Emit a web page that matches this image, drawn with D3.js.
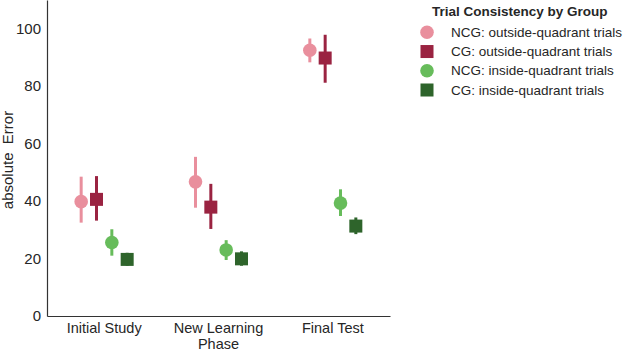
<!DOCTYPE html>
<html>
<head>
<meta charset="utf-8">
<script src="https://cdn.jsdelivr.net/npm/d3@7"></script>
<style>
  body { margin: 0; background: #fff; }
  svg { font-family: "Liberation Sans", Arial, sans-serif; }
</style>
</head>
<body>
<svg id="chart" width="623" height="350"></svg>
<script>
// categories along the x axis
const phases = ['Initial Study', 'New Learning Phase', 'Final Test'];
// series names (hue order)
const groups = [
  'NCG: outside-quadrant trials',
  'CG: outside-quadrant trials',
  'NCG: inside-quadrant trials',
  'CG: inside-quadrant trials'
];
const groupColors = ['#e98f9d', '#9a2341', '#67bc5b', '#2e642b'];
const groupShapes = ['circle', 'square', 'circle', 'square'];

// mean values per group, per phase
const ncgOutMean = [39.8, 46.7, 92.5];
const cgOutMean = [40.6, 37.9, 89.8];
const ncgInMean = [25.6, 23.0, 39.3];
const cgInMean = [19.7, 19.9, 31.3];
// error bar low / high
const ncgOutLo = [32.5, 37.7, 88.3], ncgOutHi = [48.5, 55.4, 96.6];
const cgOutLo = [33.2, 30.3, 81.2], cgOutHi = [48.7, 46.0, 97.9];
const ncgInLo = [21.0, 19.5, 34.8], ncgInHi = [30.2, 26.4, 44.1];
const cgInLo = [17.5, 17.5, 28.5], cgInHi = [22.0, 22.5, 34.3];

const yTicks = [0, 20, 40, 60, 80, 100];

const means = [ncgOutMean, cgOutMean, ncgInMean, cgInMean];
const los = [ncgOutLo, cgOutLo, ncgInLo, cgInLo];
const his = [ncgOutHi, cgOutHi, ncgInHi, cgInHi];

const svg = d3.select('#chart');
const margin = { left: 47, right: 233, top: 0, bottom: 34 };
const width = 623, height = 350;

let xScale = d3.scaleBand().domain(phases).range([margin.left, width - margin.right]).padding(0);
let yScale = d3.scaleLinear().domain([0, 110]).range([height - margin.bottom, margin.top]);
// dodge positions inside each band
let dodge = d3.scalePoint().domain(groups).range([-23, 23]);

// axes
let xAxis = d3.axisBottom(xScale).tickSize(0).tickPadding(7);
let yAxis = d3.axisLeft(yScale).tickValues(yTicks).tickSize(0).tickPadding(6);

const gx = svg.append('g')
  .attr('transform', `translate(0, ${height - margin.bottom})`)
  .call(xAxis);
gx.select('.domain').attr('stroke', '#333').attr('stroke-width', 1.2);
gx.selectAll('text')
  .attr('font-size', 14.5)
  .attr('fill', '#262626')
  .each(function (d) {
    if (d === 'New Learning Phase') {
      const t = d3.select(this);
      t.text(null);
      t.append('tspan').attr('x', 0).attr('dy', '0.71em').text('New Learning');
      t.append('tspan').attr('x', 0).attr('dy', '1.1em').text('Phase');
    }
  });

const gy = svg.append('g')
  .attr('transform', `translate(${margin.left}, 0)`)
  .call(yAxis);
gy.select('.domain').attr('stroke', '#333').attr('stroke-width', 1.2);
gy.selectAll('text').attr('font-size', 15).attr('fill', '#262626');

svg.append('text')
  .attr('transform', 'translate(13, 160) rotate(-90)')
  .attr('text-anchor', 'middle')
  .attr('font-size', 15)
  .attr('fill', '#262626')
  .attr('xml:space', 'preserve')
  .text('absolute  Error');

// points and error bars
groups.forEach((g, gi) => {
  const layer = svg.append('g');
  const data = phases.map((p, pi) => ({ phase: p, mean: means[gi][pi], lo: los[gi][pi], hi: his[gi][pi] }));
  const cx = d => xScale(d.phase) + xScale.bandwidth() / 2 + dodge(g);

  layer.selectAll('line.err').data(data).join('line')
    .attr('x1', cx).attr('x2', cx)
    .attr('y1', d => yScale(d.lo)).attr('y2', d => yScale(d.hi))
    .attr('stroke', groupColors[gi])
    .attr('stroke-width', 3);

  if (groupShapes[gi] === 'circle') {
    layer.selectAll('circle').data(data).join('circle')
      .attr('cx', cx).attr('cy', d => yScale(d.mean))
      .attr('r', 6.8)
      .attr('fill', groupColors[gi]);
  } else {
    layer.selectAll('rect').data(data).join('rect')
      .attr('x', d => cx(d) - 6.5).attr('y', d => yScale(d.mean) - 6.5)
      .attr('width', 13).attr('height', 13)
      .attr('fill', groupColors[gi]);
  }
});

// legend
const legend = svg.append('g');
legend.append('text')
  .attr('x', 432).attr('y', 16)
  .attr('font-size', 13.5).attr('font-weight', 'bold')
  .attr('fill', '#262626')
  .text('Trial Consistency by Group');

const rowY = d3.scalePoint().domain(groups).range([32.3, 90]);
groups.forEach((g, gi) => {
  const y = rowY(g);
  if (groupShapes[gi] === 'circle') {
    legend.append('circle').attr('cx', 427).attr('cy', y).attr('r', 6.8).attr('fill', groupColors[gi]);
  } else {
    legend.append('rect').attr('x', 420.5).attr('y', y - 6.5).attr('width', 13).attr('height', 13).attr('fill', groupColors[gi]);
  }
  legend.append('text')
    .attr('x', 451).attr('y', y)
    .attr('dy', '0.35em')
    .attr('font-size', 13.5)
    .attr('fill', '#262626')
    .text(g);
});
</script>
</body>
</html>
